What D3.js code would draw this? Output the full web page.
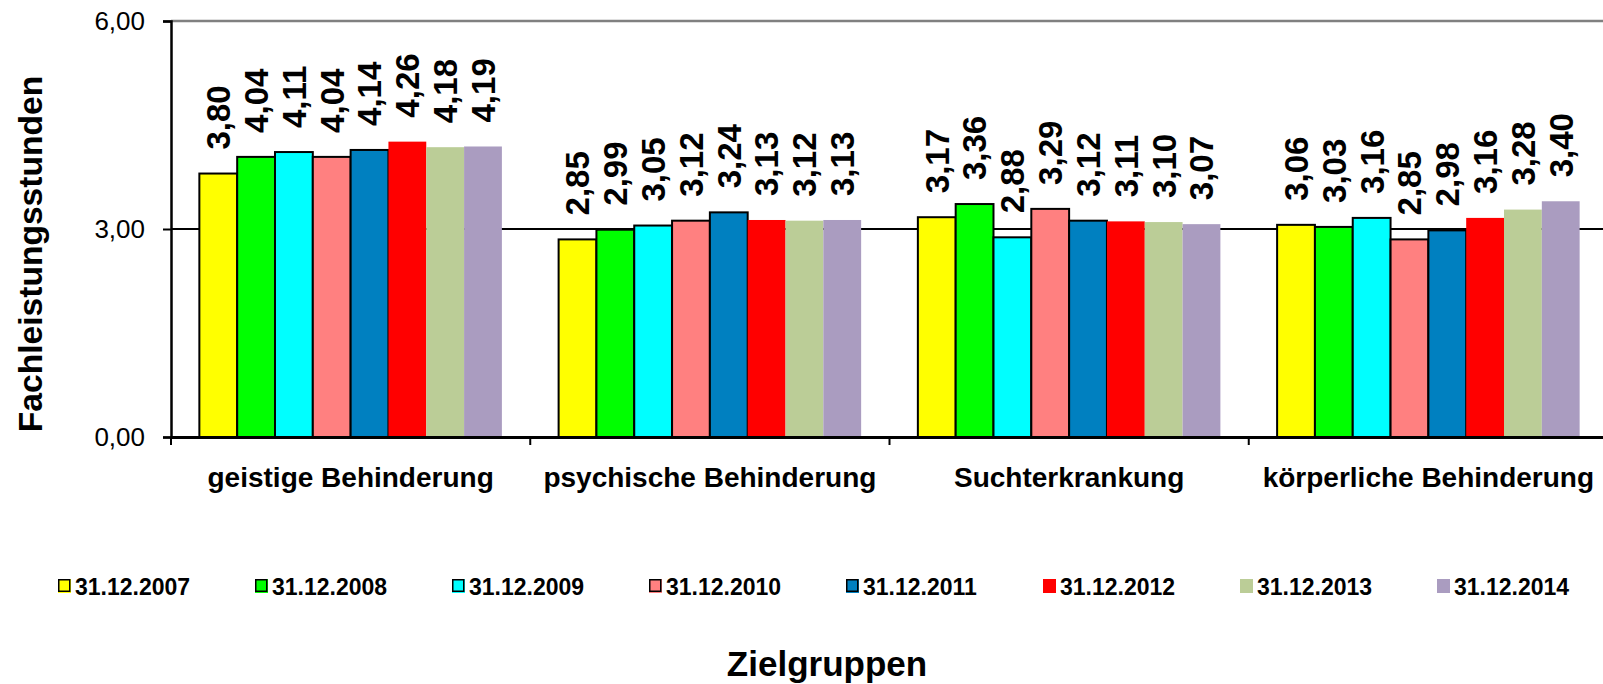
<!DOCTYPE html>
<meta charset="utf-8">
<head>
  <title>Fachleistungsstunden nach Zielgruppen</title>
</head>

<style>
  body { margin: 0; background: #fff; }
  text { font-family: "Liberation Sans", Arial, sans-serif; }
</style>

<body>

  <div id="my_dataviz"></div>

  <script src="https://d3js.org/d3.v7.min.js"></script>
  <script>

  // data
  var categories = ["geistige Behinderung", "psychische Behinderung", "Suchterkrankung", "körperliche Behinderung"];
  var seriesNames = ["31.12.2007", "31.12.2008", "31.12.2009", "31.12.2010", "31.12.2011", "31.12.2012", "31.12.2013", "31.12.2014"];
  var v2007 = [3.80, 2.85, 3.17, 3.06];
  var v2008 = [4.04, 2.99, 3.36, 3.03];
  var v2009 = [4.11, 3.05, 2.88, 3.16];
  var v2010 = [4.04, 3.12, 3.29, 2.85];
  var v2011 = [4.14, 3.24, 3.12, 2.98];
  var v2012 = [4.26, 3.13, 3.11, 3.16];
  var v2013 = [4.18, 3.12, 3.10, 3.28];
  var v2014 = [4.19, 3.13, 3.07, 3.40];
  var yTicks = [0, 3, 6];

  var seriesValues = [v2007, v2008, v2009, v2010, v2011, v2012, v2013, v2014];
  var colors = ["#ffff00", "#00ff00", "#00ffff", "#ff8080", "#0080c0", "#ff0000", "#bbcd97", "#aa9cc0"];
  var outlined = [true, true, true, true, true, false, false, false];

  // german number format
  var fmt = function(d) { return d3.format(".2f")(d).replace(".", ","); };

  var W = 1603, H = 684;
  var plotLeft = 171, plotTop = 21, plotBottom = 437, plotRight = 1608;

  var svg = d3.select("#my_dataviz")
    .append("svg")
      .attr("width", W)
      .attr("height", H);

  // scales
  var x = d3.scaleBand()
      .domain(categories)
      .range([plotLeft, plotRight])
      .padding(0);
  var xs = d3.scaleBand()
      .domain(seriesNames)
      .range([0, x.bandwidth()])
      .paddingInner(0)
      .paddingOuter(0.75);
  var y = d3.scaleLinear()
      .domain([0, 6])
      .range([plotBottom, plotTop]);

  // top border (grey) and the 3,00 gridline
  svg.append("line")
      .attr("x1", plotLeft).attr("x2", plotRight)
      .attr("y1", y(6)).attr("y2", y(6))
      .style("stroke", "#808080").style("stroke-width", 2.5);
  svg.append("line")
      .attr("x1", plotLeft).attr("x2", plotRight)
      .attr("y1", y(3)).attr("y2", y(3))
      .style("stroke", "#000").style("stroke-width", 2);

  // bars
  var rows = [];
  categories.forEach(function(c, i) {
    seriesNames.forEach(function(s, j) {
      rows.push({cat: c, ser: s, j: j, value: seriesValues[j][i]});
    });
  });

  svg.append("g").selectAll("rect")
    .data(rows)
    .enter()
    .append("rect")
      .attr("x", function(d) { return x(d.cat) + xs(d.ser); })
      .attr("y", function(d) { return y(d.value); })
      .attr("width", xs.bandwidth())
      .attr("height", function(d) { return y(0) - y(d.value); })
      .style("fill", function(d) { return colors[d.j]; })
      .style("stroke", function(d) { return outlined[d.j] ? "#000" : "none"; })
      .style("stroke-width", 2);

  // value labels, rotated
  svg.append("g").selectAll("text")
    .data(rows)
    .enter()
    .append("text")
      .attr("transform", function(d) {
        return "translate(" + (x(d.cat) + xs(d.ser) + xs.bandwidth() / 2) + "," + (y(d.value) - 24) + ") rotate(-90)";
      })
      .attr("dy", "0.36em")
      .style("font-size", "33px")
      .style("font-weight", "bold")
      .text(function(d) { return fmt(d.value); });

  // y axis
  var yAxis = svg.append("g")
      .attr("transform", "translate(" + plotLeft + ",0)")
      .call(d3.axisLeft(y).tickValues(yTicks).tickSize(8).tickPadding(18).tickFormat(fmt));
  yAxis.select(".domain").style("stroke-width", 2.5);
  yAxis.selectAll(".tick line").style("stroke-width", 2);
  yAxis.selectAll("text")
      .style("font-size", "26px")
      .style("font-family", "Liberation Sans, Arial, sans-serif")
      .attr("dy", "0.33em")
      .attr("fill", "#000");

  // x axis with category labels
  var xAxis = svg.append("g")
      .attr("transform", "translate(0," + plotBottom + ")")
      .call(d3.axisBottom(x).tickSize(0).tickSizeOuter(0).tickPadding(30));
  xAxis.select(".domain").style("stroke-width", 3);
  xAxis.selectAll("text")
      .style("font-size", "28px")
      .style("font-weight", "bold")
      .style("font-family", "Liberation Sans, Arial, sans-serif")
      .attr("fill", "#000");

  // tick marks at the category borders
  svg.append("g").selectAll("line")
    .data(categories)
    .enter()
    .append("line")
      .attr("x1", function(d) { return x(d); })
      .attr("x2", function(d) { return x(d); })
      .attr("y1", plotBottom)
      .attr("y2", plotBottom + 8)
      .style("stroke", "#000").style("stroke-width", 2);

  // axis titles
  svg.append("text")
      .attr("transform", "translate(42,254) rotate(-90)")
      .attr("text-anchor", "middle")
      .style("font-size", "33.6px")
      .style("font-weight", "bold")
      .text("Fachleistungsstunden");
  svg.append("text")
      .attr("x", 827)
      .attr("y", 676)
      .attr("text-anchor", "middle")
      .style("font-size", "35px")
      .style("font-weight", "bold")
      .text("Zielgruppen");

  // Handmade legend
  var legend = svg.append("g").selectAll("g")
    .data(seriesNames)
    .enter()
    .append("g")
      .attr("transform", function(d, i) { return "translate(" + (58 + i * 197) + ",579)"; });
  legend.append("rect")
      .attr("width", 13).attr("height", 14)
      .style("fill", function(d, i) { return colors[i]; });
  legend.filter(function(d, i) { return outlined[i]; })
    .append("rect")
      .attr("x", 0.75).attr("y", 0.75)
      .attr("width", 11).attr("height", 11.5)
      .style("fill", "none")
      .style("stroke", "#000").style("stroke-width", 1.5);
  legend.append("text")
      .attr("x", 17)
      .attr("y", 16)
      .style("font-size", "23px")
      .style("font-weight", "bold")
      .text(function(d) { return d; });

  </script>
</body>
</html>
